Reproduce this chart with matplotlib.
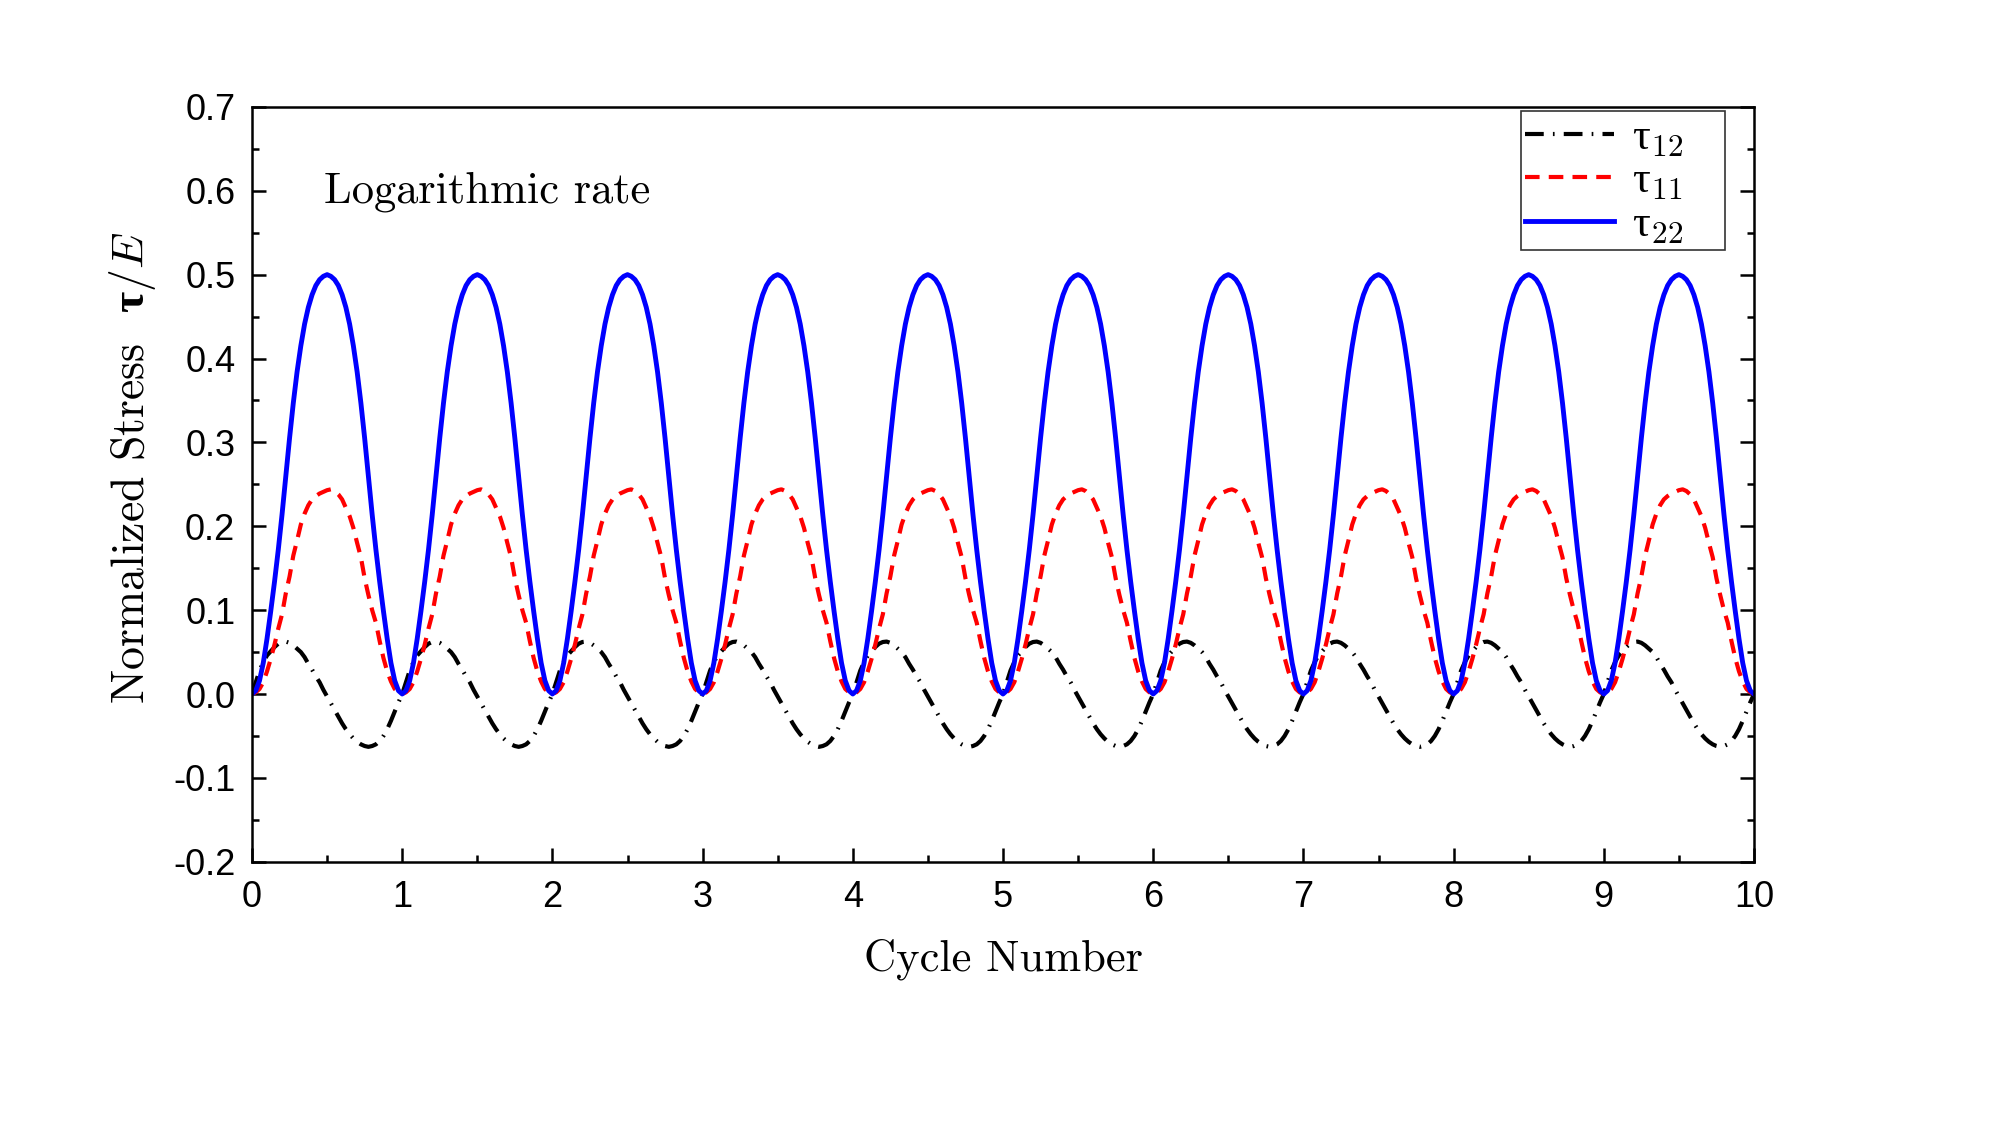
import numpy as np
import matplotlib
matplotlib.use("Agg")
import matplotlib.pyplot as plt
from matplotlib.ticker import MultipleLocator, FormatStrFormatter

plt.rcParams['mathtext.fontset'] = 'custom'
plt.rcParams['mathtext.rm'] = 'cmr10'
plt.rcParams['mathtext.it'] = 'cmmi10'
plt.rcParams['mathtext.bf'] = 'Liberation Serif:bold'
plt.rcParams['mathtext.sf'] = 'Liberation Serif'
plt.rcParams['axes.unicode_minus'] = False

phase = np.linspace(0.0, 1.0, 41)
tau12_cycle = [0.000, 0.014, 0.028, 0.038, 0.046, 0.051, 0.056, 0.060, 0.062, 0.0625,
               0.061, 0.058, 0.054, 0.050, 0.044, 0.036, 0.029, 0.021, 0.014, 0.005,
               -0.003, -0.011, -0.019, -0.027, -0.035, -0.042, -0.048, -0.053, -0.057, -0.060,
               -0.062, -0.063, -0.062, -0.060, -0.056, -0.050, -0.042, -0.032, -0.021, -0.010,
               0.000]
tau11_cycle = [0.000, 0.002, 0.006, 0.014, 0.027, 0.042, 0.059, 0.078, 0.095, 0.120,
               0.140, 0.165, 0.183, 0.202, 0.215, 0.225, 0.232, 0.236, 0.239, 0.241,
               0.243, 0.244, 0.242, 0.238, 0.232, 0.222, 0.212, 0.198, 0.180, 0.163,
               0.138, 0.118, 0.100, 0.085, 0.063, 0.043, 0.027, 0.015, 0.006, 0.002,
               0.000]
tau22_cycle = [0.000, 0.004, 0.016, 0.037, 0.066, 0.099, 0.134, 0.172, 0.214, 0.259,
               0.305, 0.347, 0.384, 0.415, 0.441, 0.461, 0.476, 0.487, 0.494, 0.498,
               0.500, 0.498, 0.494, 0.487, 0.476, 0.461, 0.441, 0.415, 0.384, 0.347,
               0.305, 0.259, 0.214, 0.172, 0.134, 0.099, 0.066, 0.037, 0.016, 0.004,
               0.000]
n_cycles = 10


def repeat_cycles(vals, n):
    vals = np.asarray(vals)
    return np.concatenate([vals[:-1]] * n + [vals[-1:]])


cycle = np.concatenate([phase[:-1] + k for k in range(n_cycles)] + [phase[-1:] + n_cycles - 1])
tau12 = repeat_cycles(tau12_cycle, n_cycles)
tau11 = repeat_cycles(tau11_cycle, n_cycles)
tau22 = repeat_cycles(tau22_cycle, n_cycles)

fig = plt.figure(figsize=(20, 11.25), dpi=100)
ax = fig.add_axes([0.126, 0.234, 0.751, 0.671])

ax.plot(cycle, tau12, color='black', lw=3, dashes=(4.5, 2.2, 0.4, 2.2), label=r'$\mathsf{\tau}_{12}$')
ax.plot(cycle, tau11, color='red', lw=3, dashes=(3.5, 2.2), label=r'$\mathsf{\tau}_{11}$')
ax.plot(cycle, tau22, color='blue', lw=3.5, label=r'$\mathsf{\tau}_{22}$')

ax.set_xlim(0, 10)
ax.set_ylim(-0.2, 0.7)
ax.xaxis.set_major_locator(MultipleLocator(1))
ax.xaxis.set_minor_locator(MultipleLocator(0.5))
ax.yaxis.set_major_locator(MultipleLocator(0.1))
ax.yaxis.set_minor_locator(MultipleLocator(0.05))
ax.yaxis.set_major_formatter(FormatStrFormatter('%.1f'))

ax.tick_params(which='both', direction='in', top=False, right=True, width=1.8)
ax.tick_params(which='major', length=10, labelsize=26)
ax.tick_params(axis='x', which='major', pad=13)
ax.tick_params(axis='y', which='major', pad=12)
ax.tick_params(which='minor', length=5)
for lab in ax.get_xticklabels() + ax.get_yticklabels():
    lab.set_fontfamily('Liberation Sans')
for sp in ax.spines.values():
    sp.set_linewidth(1.8)

ax.set_xlabel('Cycle Number', fontfamily='cmr10', fontsize=32, labelpad=17)
ax.set_ylabel(r'Normalized Stress  $\mathbf{\tau}/E$', fontfamily='cmr10', fontsize=33, labelpad=11)
ax.yaxis.label.set_y(0.522)

ax.text(0.048, 0.887, 'Logarithmic rate', transform=ax.transAxes, fontfamily='cmr10',
        fontsize=32, va='center', ha='left')

# expanded box: leaves free room right of the labels, as in the original
leg = ax.legend(loc='upper left', bbox_to_anchor=(0.8446, 0.5, 0.1364, 0.495), mode='expand',
                borderaxespad=0, fontsize=32, frameon=True, fancybox=False, handlelength=2.0,
                labelspacing=0.0, borderpad=0.1, handletextpad=0.4)
leg.get_frame().set_edgecolor('black')
leg.get_frame().set_linewidth(1.2)

fig.savefig('out.png', dpi=100)
